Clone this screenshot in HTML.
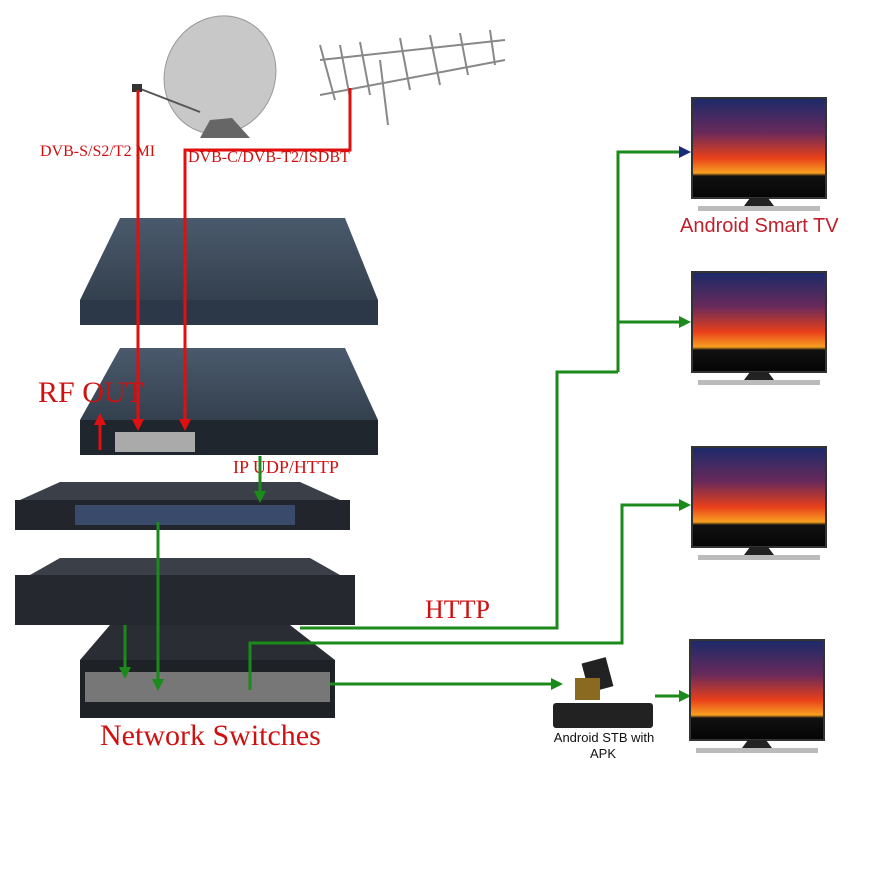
<!DOCTYPE html>
<html><head><style>body{margin:0;background:#fff}svg{display:block}</style></head><body>
<svg width="880" height="880" viewBox="0 0 880 880" xmlns="http://www.w3.org/2000/svg">
<defs>
<linearGradient id="scr" x1="0" y1="0" x2="0" y2="1">
<stop offset="0" stop-color="#1a2a6a"/><stop offset="0.35" stop-color="#6a2a5a"/><stop offset="0.6" stop-color="#e8401a"/><stop offset="0.75" stop-color="#f7a020"/><stop offset="0.78" stop-color="#111"/><stop offset="1" stop-color="#050505"/>
</linearGradient>
<linearGradient id="dev" x1="0" y1="0" x2="0" y2="1"><stop offset="0" stop-color="#4a5a6c"/><stop offset="1" stop-color="#34404e"/></linearGradient>
<marker id="ag" markerWidth="12" markerHeight="12" refX="9" refY="6" orient="auto" markerUnits="userSpaceOnUse"><path d="M0,0 L12,6 L0,12 z" fill="#1a8a1a"/></marker>
<marker id="ab" markerWidth="12" markerHeight="12" refX="9" refY="6" orient="auto" markerUnits="userSpaceOnUse"><path d="M0,0 L12,6 L0,12 z" fill="#1a2a7a"/></marker>
<marker id="ar" markerWidth="12" markerHeight="12" refX="9" refY="6" orient="auto" markerUnits="userSpaceOnUse"><path d="M0,0 L12,6 L0,12 z" fill="#e01010"/></marker>
<g id="tv"><rect x="0" y="0" width="134" height="100" fill="url(#scr)" stroke="#333" stroke-width="2"/><path d="M58,100 L76,100 L82,108 L52,108z" fill="#222"/><rect x="6" y="108" width="122" height="5" fill="#bbb"/></g>
</defs>
<!-- dish -->
<ellipse cx="220" cy="75" rx="55" ry="60" transform="rotate(25 220 75)" fill="#c8c8c8" stroke="#999"/>
<path d="M210,120 L200,138 L250,138 L232,118z" fill="#666"/>
<line x1="138" y1="88" x2="200" y2="112" stroke="#555" stroke-width="2"/>
<rect x="132" y="84" width="10" height="8" fill="#333"/>
<!-- antenna -->
<g stroke="#888" stroke-width="2" fill="none">
<line x1="320" y1="60" x2="505" y2="40"/><line x1="320" y1="95" x2="505" y2="60"/>
<line x1="380" y1="60" x2="388" y2="125"/>
<path d="M320,45 L335,100 M340,45 L350,98 M360,42 L370,95 M400,38 L410,90 M430,35 L440,85 M460,33 L468,75 M490,30 L495,65"/>
</g>
<!-- devices -->
<path d="M120,218 L345,218 L378,300 L80,300z" fill="url(#dev)"/>
<rect x="80" y="300" width="298" height="25" fill="#2c3848"/>
<path d="M120,348 L345,348 L378,420 L80,420z" fill="url(#dev)"/>
<rect x="80" y="420" width="298" height="35" fill="#20262e"/>
<rect x="115" y="432" width="80" height="20" fill="#aaa"/>
<path d="M60,482 L300,482 L340,500 L20,500z" fill="#3a3f48"/>
<rect x="15" y="500" width="335" height="30" fill="#22262c"/>
<rect x="75" y="505" width="220" height="20" fill="#3a4a6a"/>
<path d="M60,558 L310,558 L340,575 L30,575z" fill="#3a3f48"/>
<rect x="15" y="575" width="340" height="50" fill="#25292f"/>
<path d="M110,625 L290,625 L335,660 L80,660z" fill="#2a2d33"/>
<rect x="80" y="660" width="255" height="58" fill="#1e2126"/>
<rect x="85" y="672" width="245" height="30" fill="#777"/>
<!-- red lines -->
<g stroke="#e01010" stroke-width="3" fill="none">
<line x1="138" y1="90" x2="138" y2="428" marker-end="url(#ar)"/>
<polyline points="350,88 350,150 185,150 185,428" marker-end="url(#ar)"/>
<line x1="100" y1="450" x2="100" y2="416" marker-end="url(#ar)"/>
</g>
<g font-family="Liberation Serif, serif" fill="#d01010">
<text x="40" y="156" font-size="16">DVB-S/S2/T2 MI</text>
<text x="188" y="162" font-size="16">DVB-C/DVB-T2/ISDBT</text>
<text x="38" y="402" font-size="30">RF OUT</text>
<text x="233" y="473" font-size="18">IP UDP/HTTP</text>
<text x="425" y="618" font-size="26">HTTP</text>
<text x="100" y="745" font-size="30">Network Switches</text>
</g>
<!-- green lines -->
<g stroke="#1a8a1a" stroke-width="3" fill="none">
<line x1="260" y1="456" x2="260" y2="500" marker-end="url(#ag)"/>
<line x1="158" y1="522" x2="158" y2="688" marker-end="url(#ag)"/>
<line x1="125" y1="625" x2="125" y2="676" marker-end="url(#ag)"/>
<polyline points="300,628 557,628 557,372 618,372"/>
<polyline points="618,322 618,152 688,152" marker-end="url(#ab)"/>
<line x1="618" y1="322" x2="688" y2="322" marker-end="url(#ag)"/>
<line x1="618" y1="372" x2="618" y2="322"/>
<polyline points="250,690 250,643 622,643 622,505 688,505" marker-end="url(#ag)"/>
<line x1="330" y1="684" x2="560" y2="684" marker-end="url(#ag)"/>
<line x1="655" y1="696" x2="688" y2="696" marker-end="url(#ag)"/>
</g>
<!-- TVs -->
<use href="#tv" x="692" y="98"/>
<use href="#tv" x="692" y="272"/>
<use href="#tv" x="692" y="447"/>
<use href="#tv" x="690" y="640"/>
<text x="680" y="232" font-family="Liberation Sans, sans-serif" font-size="20" fill="#c0202a">Android Smart TV</text>
<!-- STB -->
<rect x="585" y="660" width="25" height="30" fill="#222" transform="rotate(-15 597 675)"/>
<rect x="575" y="678" width="25" height="22" fill="#8a6a20"/>
<rect x="553" y="703" width="100" height="25" rx="3" fill="#222"/>
<text x="604" y="742" text-anchor="middle" font-family="Liberation Sans, sans-serif" font-size="13" fill="#111">Android STB with</text>
<text x="603" y="758" text-anchor="middle" font-family="Liberation Sans, sans-serif" font-size="13" fill="#111">APK</text>
</svg>
</body></html>
